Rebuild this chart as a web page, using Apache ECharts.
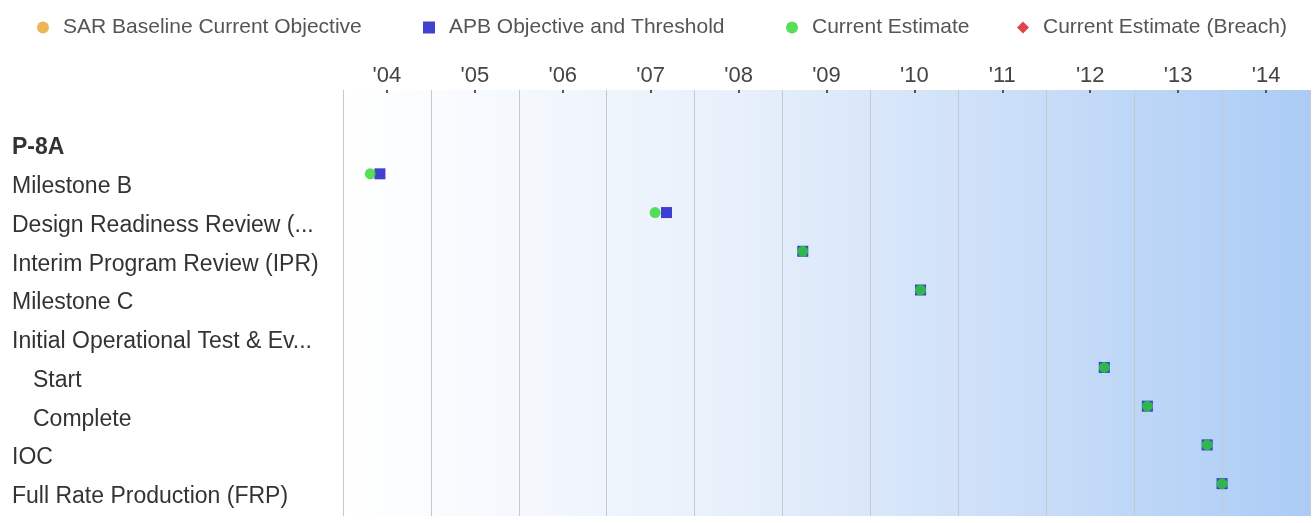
<!DOCTYPE html>
<html>
<head>
<meta charset="utf-8">
<script src="https://cdn.jsdelivr.net/npm/echarts@6/dist/echarts.min.js"></script>
<style>
  html, body { margin: 0; padding: 0; background: #fff; }
  #chart { width: 1315px; height: 523px; }
</style>
</head>
<body>
<div id="chart"></div>
<script>
// year labels across the top (one band per year)
const yearLabels = ["'04", "'05", "'06", "'07", "'08", "'09", "'10", "'11", "'12", "'13", "'14"];

// milestone rows, top to bottom (first row is the blank header band)
const rows = [
  '',
  'P-8A',
  'Milestone B',
  'Design Readiness Review (...',
  'Interim Program Review (IPR)',
  'Milestone C',
  'Initial Operational Test & Ev...',
  'Start',
  'Complete',
  'IOC',
  'Full Rate Production (FRP)'
];
const indentedRows = ['Start', 'Complete'];

// dates as decimal years, one entry per row (null = no marker)
const sarBaseline = [null, null, null, null, null, null, null, null, null, null, null];
const apbObjective = [null, null, 2004.42, 2007.68, 2009.23, 2010.57, null, 2012.66, 2013.15, 2013.83, 2014.0];
const currentEstimate = [null, null, 2004.31, 2007.55, 2009.23, 2010.57, null, 2012.66, 2013.15, 2013.83, 2014.0];
const currentBreach = [null, null, null, null, null, null, null, null, null, null, null];

const toPoints = (vals) => vals
  .map((v, i) => (v == null ? null : [v, rows[i]]))
  .filter((p) => p !== null);

const chart = echarts.init(document.getElementById('chart'));

const legendBase = {
  top: 12,
  itemWidth: 12,
  itemHeight: 12,
  selectedMode: false,
  textStyle: {
    fontFamily: 'Liberation Sans',
    fontSize: 21,
    color: '#555',
    padding: [0, 0, 0, 9]
  }
};

const labelFont = 23;

const option = {
  animation: false,
  backgroundColor: '#fff',
  legend: [
    { ...legendBase, left: 32, data: ['SAR Baseline Current Objective'] },
    { ...legendBase, left: 418, data: ['APB Objective and Threshold'] },
    { ...legendBase, left: 781, data: ['Current Estimate'] },
    { ...legendBase, left: 1012, data: ['Current Estimate (Breach)'] }
  ],
  grid: {
    left: 343,
    right: 5,
    top: 90,
    bottom: 7,
    show: true,
    borderWidth: 0,
    backgroundColor: new echarts.graphic.LinearGradient(0, 0, 1, 0, [
      { offset: 0, color: '#ffffff' },
      { offset: 0.4, color: '#e8f0fb' },
      { offset: 1, color: '#acccf5' }
    ])
  },
  xAxis: [
    {
      type: 'category',
      position: 'top',
      data: yearLabels,
      boundaryGap: true,
      axisLine: { show: false },
      axisTick: { show: true, inside: true, length: 3, alignWithLabel: true, lineStyle: { color: '#555', width: 2 } },
      axisLabel: { margin: 3, fontFamily: 'Liberation Sans', fontSize: 22, color: '#444' },
      splitLine: { show: true, lineStyle: { color: '#c4c8d0', width: 1 } }
    },
    {
      type: 'value',
      min: 2004,
      max: 2015,
      show: false
    }
  ],
  yAxis: {
    type: 'category',
    inverse: true,
    data: rows,
    axisLine: { show: false },
    axisTick: { show: false },
    splitLine: { show: false },
    axisLabel: {
      align: 'left',
      margin: 331,
      fontFamily: 'Liberation Sans',
      fontSize: labelFont,
      color: '#333',
      formatter: (v) => {
        if (v === 'P-8A') return '{b|' + v + '}';
        if (indentedRows.includes(v)) return '{ind|' + v + '}';
        return v;
      },
      rich: {
        b: { fontFamily: 'Liberation Sans', fontSize: labelFont, fontWeight: 'bold', color: '#333' },
        ind: { fontFamily: 'Liberation Sans', fontSize: labelFont, color: '#333', padding: [0, 0, 0, 21] }
      }
    }
  },
  series: [
    {
      name: 'SAR Baseline Current Objective',
      type: 'scatter',
      xAxisIndex: 1,
      symbol: 'circle',
      symbolSize: 11,
      symbolOffset: [0, -13],
      itemStyle: { color: '#e8a32e' },
      data: toPoints(sarBaseline)
    },
    {
      name: 'APB Objective and Threshold',
      type: 'scatter',
      xAxisIndex: 1,
      symbol: 'rect',
      symbolSize: 11,
      symbolOffset: [0, -13],
      itemStyle: { color: '#1212c4' },
      data: toPoints(apbObjective)
    },
    {
      name: 'Current Estimate',
      type: 'scatter',
      xAxisIndex: 1,
      symbol: 'circle',
      symbolSize: 11,
      symbolOffset: [0, -13],
      itemStyle: { color: '#2ed62e' },
      data: toPoints(currentEstimate)
    },
    {
      name: 'Current Estimate (Breach)',
      type: 'scatter',
      xAxisIndex: 1,
      symbol: 'diamond',
      symbolSize: 12,
      symbolOffset: [0, -13],
      itemStyle: { color: '#d8141e' },
      data: toPoints(currentBreach)
    }
  ]
};

chart.setOption(option);
</script>
</body>
</html>
